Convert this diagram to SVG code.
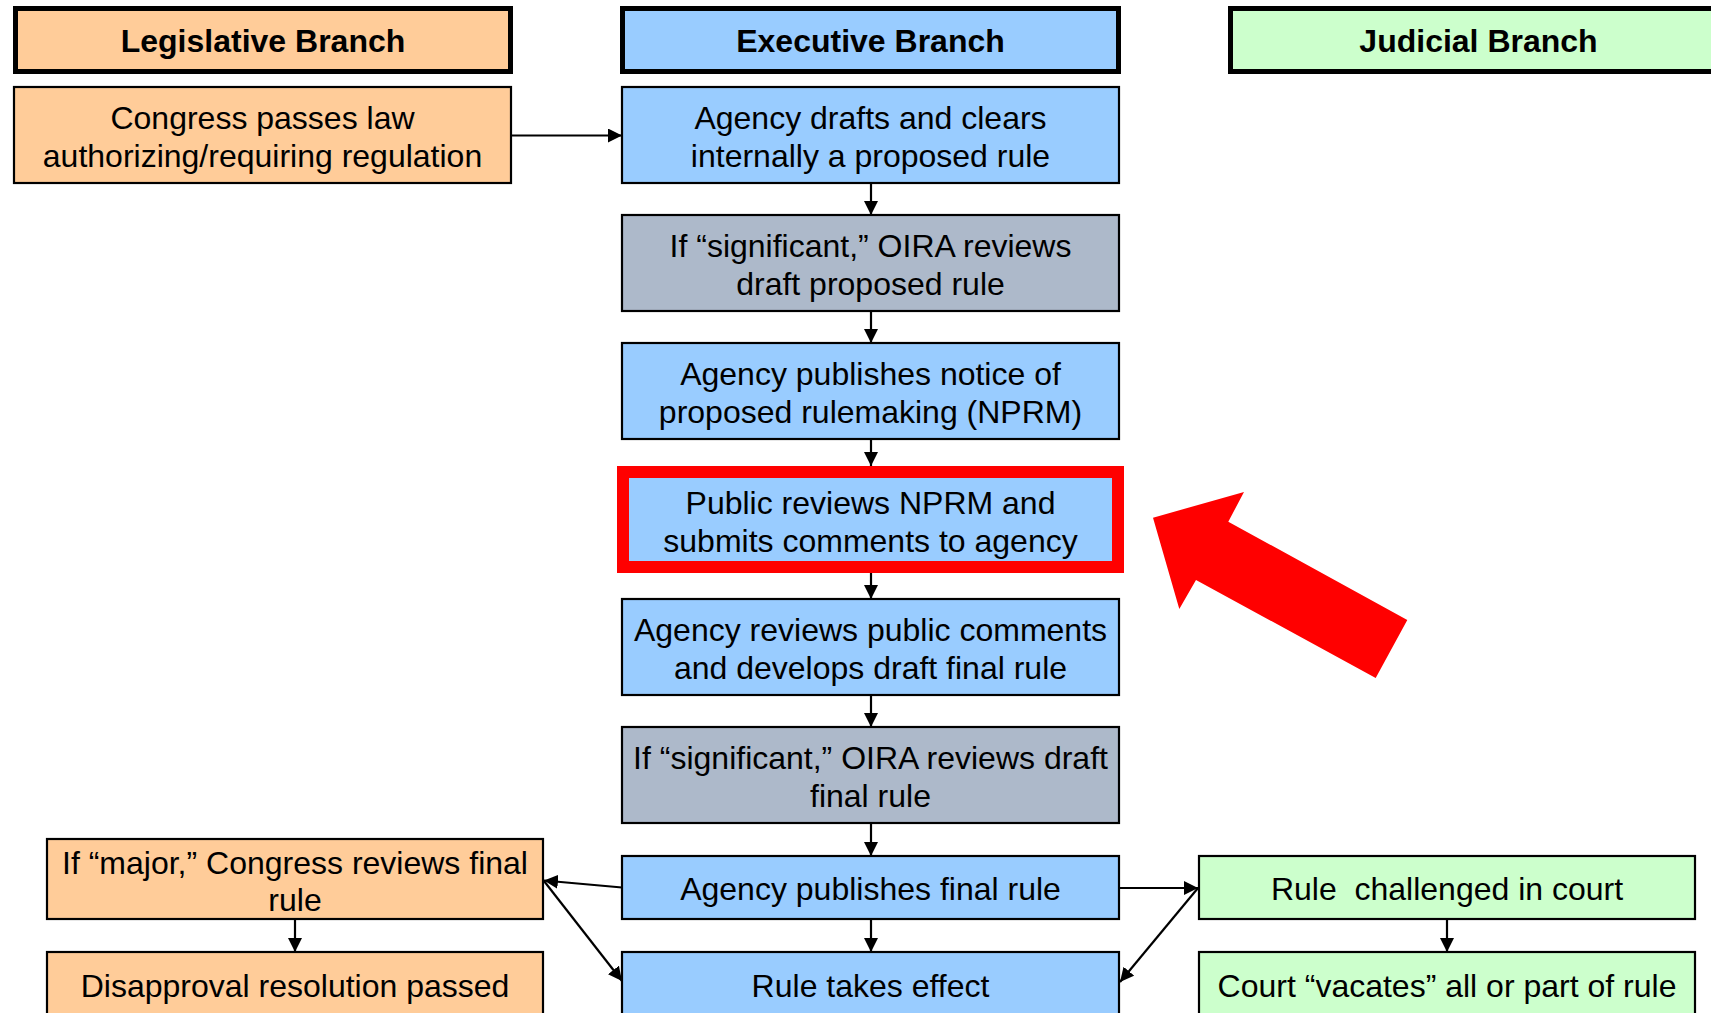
<svg xmlns="http://www.w3.org/2000/svg" width="1711" height="1013" viewBox="0 0 1711 1013">
<style>
text{font-family:"Liberation Sans",Arial,sans-serif;font-size:32px;fill:#000;text-anchor:middle;white-space:pre}
.hd{font-weight:bold}
.hdbox{stroke:#000;stroke-width:5}
.box{stroke:#000;stroke-width:2.2}
.leg{fill:#FFCC99}
.exe{fill:#99CCFF}
.oira{fill:#ADB9CA}
.jud{fill:#CCFFCC}
.con line{stroke:#000;stroke-width:2.2;marker-end:url(#ah)}
</style>
<defs>
<marker id="ah" markerUnits="userSpaceOnUse" markerWidth="14" markerHeight="14" viewBox="0 0 14 14" refX="14" refY="7" orient="auto">
<path d="M0,0 L14,7 L0,14 z" fill="#000"/>
</marker>
</defs>
<rect width="1711" height="1013" fill="#fff"/>

<g id="hdr-legislative"><rect class="hdbox leg" x="15.5" y="8.5" width="495" height="63"/><text class="hd" x="263" y="52">Legislative Branch</text></g>
<g id="hdr-executive"><rect class="hdbox exe" x="622.5" y="8.5" width="496" height="63"/><text class="hd" x="870.5" y="52">Executive Branch</text></g>
<g id="hdr-judicial"><rect class="hdbox jud" x="1230.5" y="8.5" width="496" height="63"/><text class="hd" x="1478.5" y="52">Judicial Branch</text></g>

<g id="n-congress"><rect class="box leg" x="14" y="87" width="497" height="96"/><text x="262.5" y="129">Congress passes law</text><text x="262.5" y="167">authorizing/requiring regulation</text></g>
<g id="n-drafts"><rect class="box exe" x="622" y="87" width="497" height="96"/><text x="870.5" y="129">Agency drafts and clears</text><text x="870.5" y="167">internally a proposed rule</text></g>
<g id="n-oira1"><rect class="box oira" x="622" y="215" width="497" height="96"/><text x="870.5" y="257">If “significant,” OIRA reviews</text><text x="870.5" y="295">draft proposed rule</text></g>
<g id="n-nprm"><rect class="box exe" x="622" y="343" width="497" height="96"/><text x="870.5" y="385">Agency publishes notice of</text><text x="870.5" y="423">proposed rulemaking (NPRM)</text></g>
<g id="n-public"><rect x="623" y="472" width="495" height="95" fill="#99CCFF" stroke="#FF0000" stroke-width="12"/><text x="870.5" y="513.5">Public reviews NPRM and</text><text x="870.5" y="551.5">submits comments to agency</text></g>
<g id="n-reviews"><rect class="box exe" x="622" y="599" width="497" height="96"/><text x="870.5" y="641">Agency reviews public comments</text><text x="870.5" y="679">and develops draft final rule</text></g>
<g id="n-oira2"><rect class="box oira" x="622" y="727" width="497" height="96"/><text x="870.5" y="769">If “significant,” OIRA reviews draft</text><text x="870.5" y="807">final rule</text></g>
<g id="n-final"><rect class="box exe" x="622" y="856" width="497" height="63"/><text x="870.5" y="900">Agency publishes final rule</text></g>
<g id="n-effect"><rect class="box exe" x="622" y="952" width="497" height="66"/><text x="870.5" y="997">Rule takes effect</text></g>
<g id="n-major"><rect class="box leg" x="47" y="839" width="496" height="80"/><text x="295" y="874">If “major,” Congress reviews final</text><text x="295" y="911">rule</text></g>
<g id="n-disapproval"><rect class="box leg" x="47" y="952" width="496" height="66"/><text x="295" y="997">Disapproval resolution passed</text></g>
<g id="n-challenged"><rect class="box jud" x="1199" y="856" width="496" height="63"/><text x="1447" y="900">Rule  challenged in court</text></g>
<g id="n-vacates"><rect class="box jud" x="1199" y="952" width="496" height="66"/><text x="1447" y="997">Court “vacates” all or part of rule</text></g>

<g id="callout-arrow"><polygon points="1153,517.7 1244,492 1228.3,521.7 1407.3,620 1375.7,678 1196,580 1179.3,609" fill="#FF0000"/></g>

<g id="connectors" class="con">
<line x1="511" y1="135.5" x2="622" y2="135.5"/>
<line x1="871" y1="183" x2="871" y2="215"/>
<line x1="871" y1="311" x2="871" y2="343"/>
<line x1="871" y1="439" x2="871" y2="466"/>
<line x1="871" y1="573" x2="871" y2="599"/>
<line x1="871" y1="695" x2="871" y2="727"/>
<line x1="871" y1="823" x2="871" y2="856"/>
<line x1="871" y1="919" x2="871" y2="952"/>
<line x1="295" y1="919" x2="295" y2="952"/>
<line x1="1447" y1="919" x2="1447" y2="952"/>
<line x1="622" y1="887.5" x2="544" y2="880.5"/>
<line x1="544" y1="881" x2="622" y2="981"/>
<line x1="1119" y1="888" x2="1198" y2="888"/>
<line x1="1198" y1="888" x2="1120" y2="982"/>
</g>
</svg>
